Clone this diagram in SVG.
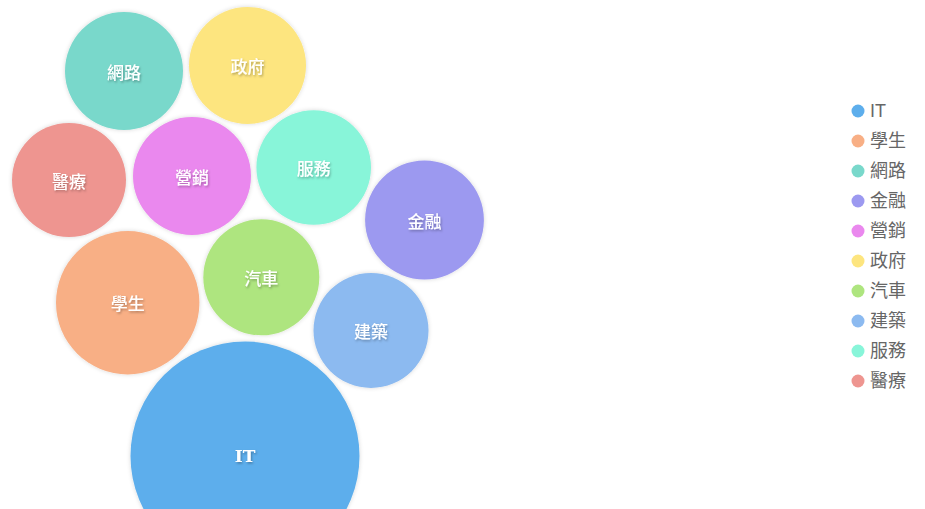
<svg xmlns="http://www.w3.org/2000/svg" width="925" height="509" viewBox="0 0 925 509">
<defs>
<filter id="cs" x="-20%" y="-20%" width="140%" height="140%">
<feDropShadow dx="0" dy="0" stdDeviation="2" flood-color="#000" flood-opacity="0.16"/>
</filter>
<filter id="ts" x="-20%" y="-40%" width="140%" height="180%">
<feDropShadow dx="1" dy="1.5" stdDeviation="1" flood-color="#000" flood-opacity="0.3"/>
</filter>
</defs>
<style>
.lbl{font-family:"Noto Sans CJK TC",sans-serif;font-size:17px;font-weight:500;fill:#fff;text-anchor:middle;dominant-baseline:central;filter:url(#ts)}
.lat{font-family:"DejaVu Serif",serif;font-size:17px;font-weight:bold;fill:#fff;text-anchor:middle;dominant-baseline:central;filter:url(#ts)}
.bub{filter:url(#cs)}
.leg{font-family:"Liberation Sans","Noto Sans CJK TC",sans-serif;font-size:18px;fill:#666;dominant-baseline:central}
</style>
<rect width="925" height="509" fill="#fff"/>
<g id="node-IT"><circle class="bub" cx="245" cy="456" r="114.5" fill="#5DAEEC"/><text class="lat" x="245" y="456">IT</text></g>
<g id="node-student"><circle class="bub" cx="127.7" cy="302.7" r="71.7" fill="#F8AF85"/><text class="lbl" x="127.7" y="302.7">學生</text></g>
<g id="node-network"><circle class="bub" cx="124" cy="71" r="59" fill="#79D8CB"/><text class="lbl" x="124" y="71">網路</text></g>
<g id="node-finance"><circle class="bub" cx="424.5" cy="220" r="59.4" fill="#9C99F0"/><text class="lbl" x="424.5" y="220">金融</text></g>
<g id="node-marketing"><circle class="bub" cx="192" cy="176" r="59" fill="#EA88EE"/><text class="lbl" x="192" y="176">營銷</text></g>
<g id="node-gov"><circle class="bub" cx="247.5" cy="65.5" r="58.5" fill="#FDE57F"/><text class="lbl" x="247.5" y="65.5">政府</text></g>
<g id="node-car"><circle class="bub" cx="261.3" cy="277.3" r="58" fill="#AEE57F"/><text class="lbl" x="261.3" y="277.3">汽車</text></g>
<g id="node-build"><circle class="bub" cx="371" cy="330.5" r="57.5" fill="#8CBAF0"/><text class="lbl" x="371" y="330.5">建築</text></g>
<g id="node-service"><circle class="bub" cx="313.7" cy="167.5" r="57.3" fill="#88F5D9"/><text class="lbl" x="313.7" y="167.5">服務</text></g>
<g id="node-medical"><circle class="bub" cx="69" cy="180" r="57" fill="#EE9590"/><text class="lbl" x="69" y="180">醫療</text></g>
<g id="connectors"></g>
<g id="legend">
<circle cx="858" cy="111" r="6.5" fill="#5DAEEC"/><text class="leg" x="870" y="111">IT</text>
<circle cx="858" cy="141" r="6.5" fill="#F8AF85"/><text class="leg" x="870" y="141">學生</text>
<circle cx="858" cy="171" r="6.5" fill="#79D8CB"/><text class="leg" x="870" y="171">網路</text>
<circle cx="858" cy="201" r="6.5" fill="#9C99F0"/><text class="leg" x="870" y="201">金融</text>
<circle cx="858" cy="231" r="6.5" fill="#EA88EE"/><text class="leg" x="870" y="231">營銷</text>
<circle cx="858" cy="261" r="6.5" fill="#FDE57F"/><text class="leg" x="870" y="261">政府</text>
<circle cx="858" cy="291" r="6.5" fill="#AEE57F"/><text class="leg" x="870" y="291">汽車</text>
<circle cx="858" cy="321" r="6.5" fill="#8CBAF0"/><text class="leg" x="870" y="321">建築</text>
<circle cx="858" cy="351" r="6.5" fill="#88F5D9"/><text class="leg" x="870" y="351">服務</text>
<circle cx="858" cy="381" r="6.5" fill="#EE9590"/><text class="leg" x="870" y="381">醫療</text>
</g>
</svg>
